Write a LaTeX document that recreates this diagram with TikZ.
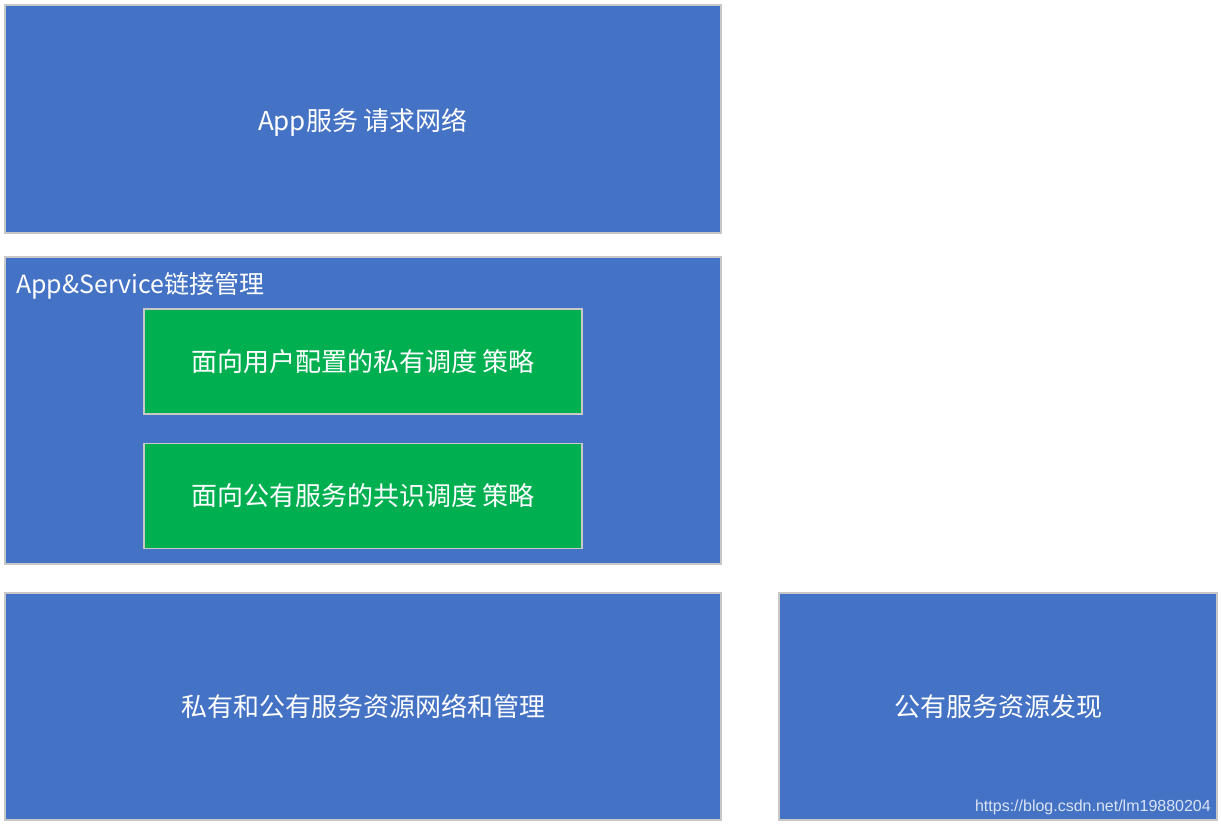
\documentclass[tikz,border=0pt]{standalone}
\usepackage{fontspec}
\newfontfamily\cjk{Noto Sans CJK SC}
\newfontfamily\wm{Liberation Sans}
\usetikzlibrary{positioning}
\definecolor{blu}{HTML}{4472C4}
\definecolor{grn}{HTML}{00B050}
\definecolor{edg}{HTML}{C8C8C8}

\begin{document}
\begin{tikzpicture}[x=1pt,y=-1pt,
  layer/.style={rectangle,draw=edg,line width=1.2pt,fill=blu,text=white,inner sep=0pt,font=\cjk\fontsize{26}{31}\selectfont},
  policy/.style={rectangle,draw=edg,line width=1.2pt,fill=grn,text=white,inner sep=0pt,minimum width=438pt,minimum height=105pt,font=\cjk\fontsize{26}{31}\selectfont}]
\useasboundingbox (0,0) rectangle (1221,827);
\node[layer,minimum width=716pt,minimum height=228pt] (app) at (363,119) {\raisebox{-3pt}[\height][\depth]{App服务 请求网络}};
\node[layer,minimum width=716pt,minimum height=307pt] (link) at (363,410.5) {};
\node[anchor=west,text=white,font=\cjk\fontsize{25}{30}\selectfont,inner sep=0pt] (linklbl) at (16,286) {App\&Service链接管理};
\node[policy] (priv) at (363,361.5) {面向用户配置的私有调度 策略};
\node[policy] (pub) at (363,496) {面向公有服务的共识调度 策略};
\node[layer,minimum width=716pt,minimum height=227pt] (res) at (363,706.5) {私有和公有服务资源网络和管理};
\node[layer,minimum width=438pt,minimum height=227pt] (disc) at (998,706.5) {公有服务资源发现};
\node[anchor=east,text=white!80!blu,font=\wm\fontsize{16}{19}\selectfont,inner sep=0pt] (mark) at (1211,807) {https://blog.csdn.net/lm19880204};
\end{tikzpicture}
\end{document}
